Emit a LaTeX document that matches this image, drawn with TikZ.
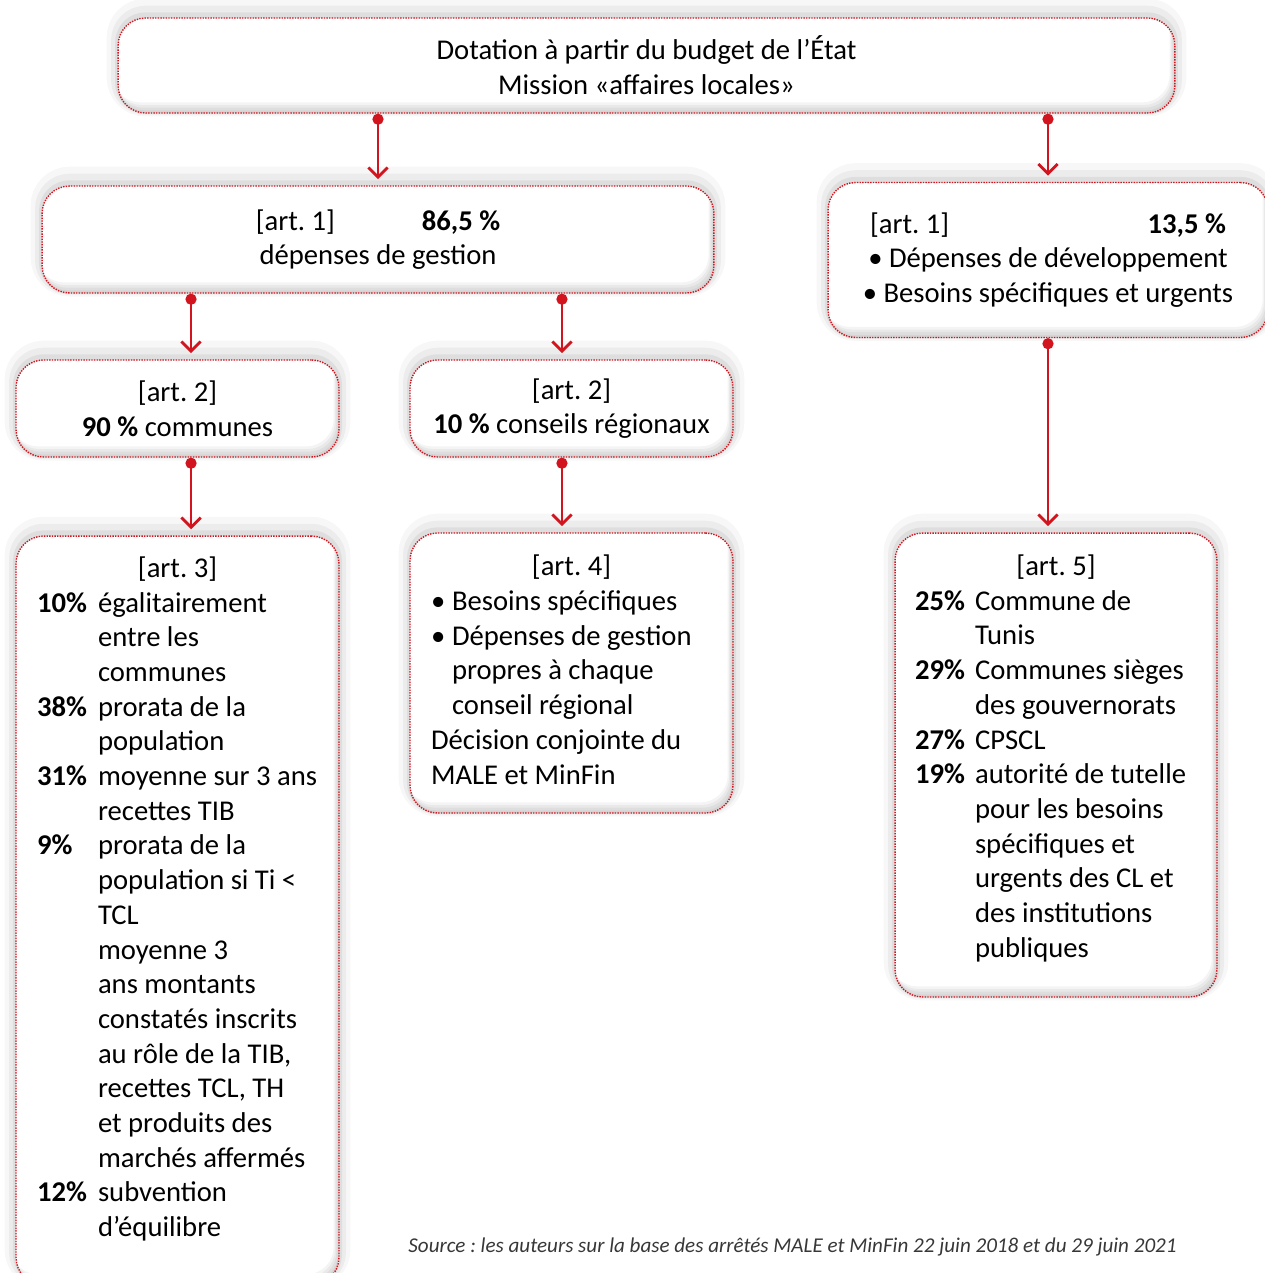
\documentclass[tikz,border=0pt]{standalone}
\usepackage{fontspec}
\setmainfont{Carlito}
\frenchspacing
\usetikzlibrary{arrows.meta,positioning}
\definecolor{artred}{RGB}{210,20,30}
\definecolor{srcgray}{RGB}{55,55,55}
\newcommand{\pct}[1]{\textbf{#1}}
\tikzset{
  box/.style={rectangle, rounded corners=0.55cm, fill=white, draw=artred,
    dash pattern=on 0.8pt off 0.7pt, line width=0.8pt, inner sep=0pt, align=center,
    font=\fontsize{16.3}{19.75}\selectfont,
    preaction={draw=black, solid, opacity=0.03, line width=13pt, transform canvas={yshift=4.5pt}},
    preaction={draw=black, solid, opacity=0.045, line width=8pt, transform canvas={yshift=3pt}},
    preaction={draw=black, solid, opacity=0.06, line width=3.5pt, transform canvas={yshift=1.5pt}},
    path picture={
      \foreach \s in {1.5,3,4.5,6}
        \fill[black, opacity=0.045, even odd rule, rounded corners=0.55cm]
          (path picture bounding box.south west) rectangle (path picture bounding box.north east)
          ([xshift=-0.5*\s pt, yshift=\s pt]path picture bounding box.south west) rectangle
          ([xshift=-0.5*\s pt, yshift=\s pt]path picture bounding box.north east);}},
  link/.style={draw=artred, line width=1.6pt,
    {Circle[length=6.3pt]}-{Straight Barb[length=5.5pt,width=11pt]}, shorten >=3.5pt},
}

\begin{document}
\begin{tikzpicture}[x=0.02cm, y=-0.02cm]
  \useasboundingbox (0,0) rectangle (1264,1273);
  % Define nodes
  \node[box, minimum width=21.14cm, minimum height=1.9cm] (etat) at (646.5,65.5)
    {Dotation à partir du budget de l’État\\Mission «affaires locales»};
  \node[box, minimum width=13.44cm, minimum height=2.14cm] (gestion) at (378,239.5)
    {[art. 1]\hspace{1.74cm}\textbf{86,5 \%}\\dépenses de gestion};
  \node[box, minimum width=8.8cm, minimum height=3.1cm] (devel) at (1048,260)
    {\makebox[7.12cm]{[art. 1]\hfill\textbf{13,5 \%}}\\
     \textbullet~Dépenses de développement\\
     \textbullet~Besoins spécifiques et urgents};
  \node[box, minimum width=6.46cm, minimum height=1.94cm] (comm) at (177.5,408.5)
    {[art. 2]\\\textbf{90 \%} communes};
  \node[box, minimum width=6.46cm, minimum height=1.94cm] (cr) at (571.5,408.5)
    {[art. 2]\\\textbf{10 \%} conseils régionaux};
  \node[box, minimum width=6.46cm, minimum height=14.98cm] (art3) at (177.5,910.5)
    {\begin{tabular}{@{}p{1.22cm}@{}p{4.4cm}@{}}
      \multicolumn{2}{@{}c@{}}{[art. 3]}\\
      \pct{10\%} & égalitairement\\
       & entre les\\
       & communes\\
      \pct{38\%} & prorata de la\\
       & population\\
      \pct{31\%} & moyenne sur 3 ans\\
       & recettes TIB\\
      \pct{9\%} & prorata de la\\
       & population si Ti <\\
       & TCL\\
       & moyenne 3\\
       & ans montants\\
       & constatés inscrits\\
       & au rôle de la TIB,\\
       & recettes TCL, TH\\
       & et produits des\\
       & marchés affermés\\
      \pct{12\%} & subvention\\
       & d’équilibre\\[0.42cm]
    \end{tabular}};
  \node[box, minimum width=6.46cm, minimum height=5.6cm] (art4) at (571.5,673)
    {\begin{tabular}{@{}p{0.42cm}@{}p{5.2cm}@{}}
      \multicolumn{2}{@{}c@{}}{[art. 4]}\\
      \textbullet & Besoins spécifiques\\
      \textbullet & Dépenses de gestion\\
       & propres à chaque\\
       & conseil régional\\
      \multicolumn{2}{@{}l@{}}{Décision conjointe du}\\
      \multicolumn{2}{@{}l@{}}{MALE et MinFin}
    \end{tabular}};
  \node[box, minimum width=6.44cm, minimum height=9.28cm] (art5) at (1056,765)
    {\begin{tabular}{@{}p{1.2cm}@{}p{4.44cm}@{}}
      \multicolumn{2}{@{}c@{}}{[art. 5]}\\
      \pct{25\%} & Commune de\\
       & Tunis\\
      \pct{29\%} & Communes sièges\\
       & des gouvernorats\\
      \pct{27\%} & CPSCL\\
      \pct{19\%} & autorité de tutelle\\
       & pour les besoins\\
       & spécifiques et\\
       & urgents des CL et\\
       & des institutions\\
       & publiques\\[0.22cm]
    \end{tabular}};
  \node[text=srcgray, font=\fontsize{12}{14}\selectfont\itshape] (src) at (792.5,1247)
    {Source : les auteurs sur la base des arrêtés MALE et MinFin 22 juin 2018 et du 29 juin 2021};

  % Connect the nodes
  \coordinate (gc) at ([xshift=-3.74cm]gestion.south);
  \coordinate (gr) at ([xshift=3.68cm]gestion.south);
  \draw[link] (etat.south -| gestion.north) -- (gestion.north);
  \draw[link] (etat.south -| devel.north) -- (devel.north);
  \draw[link] (gc) -- (gc |- comm.north);
  \draw[link] (gr) -- (gr |- cr.north);
  \draw[link] (comm.south -| gc) -- (art3.north -| gc);
  \draw[link] (cr.south -| gr) -- (art4.north -| gr);
  \draw[link] (devel.south) -- (devel.south |- art5.north);
\end{tikzpicture}
\end{document}
